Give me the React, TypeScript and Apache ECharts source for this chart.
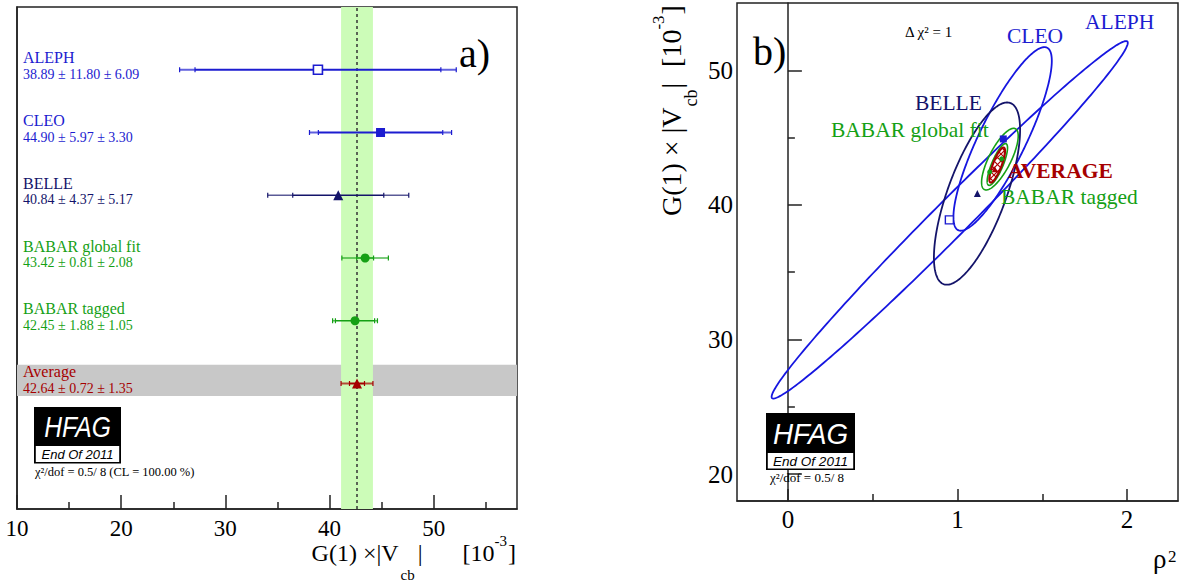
import React, { useEffect, useRef } from 'react';
import * as echarts from 'echarts';

// ---------- Panel a) data ----------
const experiments = ['ALEPH', 'CLEO', 'BELLE', 'BABAR global fit', 'BABAR tagged', 'Average'];
const centralValues = [38.89, 44.9, 40.84, 43.42, 42.45, 42.64];
const statErrors = [11.8, 5.97, 4.37, 0.81, 1.88, 0.72];
const systErrors = [6.09, 3.3, 5.17, 2.08, 1.05, 1.35];
const rowPositions = [7, 6, 5, 4, 3, 2];
const averageBandRows = [1.8, 2.3];
const xRangeA = [10, 58];
const yRangeA = [0, 8];
const xTickValuesA = [10, 20, 30, 40, 50];
const xMinorTickValuesA = [15, 25, 35, 45, 55];

// ---------- Panel b) data ----------
const ellipseLabels = ['ALEPH', 'CLEO', 'BELLE', 'BABAR global fit', 'BABAR tagged', 'AVERAGE'];
const ellipseRho2 = [0.954, 1.266, 1.115, 1.25, 1.235, 1.234];
const ellipseVcb = [38.89, 44.9, 40.84, 43.4, 43.0, 42.96];
const ellipseSigmaRho2 = [1.05, 0.29, 0.254, 0.108, 0.06, 0.046];
const ellipseSigmaVcb = [13.28, 6.82, 6.77, 2.29, 1.55, 1.3];
const ellipseCorrelation = [0.99, 0.85, 0.7, 0.75, 0.8, 0.8];
const markerRho2 = [0.952, 1.27, 1.117, 1.26, 1.19, 1.22];
const markerVcb = [38.89, 44.9, 40.84, 43.42, 42.45, 42.64];
const xRangeB = [-0.3, 2.3];
const yRangeB = [18, 55];
const xTickValuesB = [0, 1, 2];
const xMinorTickValuesB = [0.5, 1.5];
const yTickValuesB = [20, 30, 40, 50];
const yMinorTickValuesB = [25, 35, 45];

// ---------- styles ----------
const BLUE = '#1c1cd0';
const NAVY = '#14146a';
const GREEN = '#15a015';
const RED = '#a60000';
const SERIF = 'Liberation Serif';
const SANS = 'Liberation Sans';
const rowColors = [BLUE, BLUE, NAVY, GREEN, GREEN, RED];
const rowSymbols = ['rect', 'rect', 'triangle', 'circle', 'circle', 'triangle'];
const rowSymbolSizes = [9, 9, 10, 9, 9, 10];
const rowHollow = [true, false, false, false, false, false];
const errLineWidths = [2, 2, 1.5, 1.6, 1.6, 2];
const ellipseColors = ['#1616e0', '#1616e0', NAVY, GREEN, GREEN, RED];
const ellipseWidths = [1.8, 1.8, 1.8, 1.6, 1.6, 2.2];
const markerSizesB = [8, 7, 7, 5, 5, 6];

let measureCtx: CanvasRenderingContext2D | null = null;
function measure(t: string, size: number, family = SERIF) {
  if (!measureCtx) measureCtx = document.createElement('canvas').getContext('2d');
  if (!measureCtx) return t.length * size * 0.5;
  measureCtx.font = `${size}px "${family}"`;
  return measureCtx.measureText(t).width;
}

function txt(text: string, x: number, y: number, size: number, color = '#000', extra: any = {}, elExtra: any = {}) {
  return {
    type: 'text',
    x,
    y,
    z: 100,
    silent: true,
    ...elExtra,
    style: { text, fontSize: size, fontFamily: SERIF, fill: color, align: 'left', verticalAlign: 'middle', ...extra },
  };
}

type Piece = { t: string; size: number; dy: number; gap: number };
function layoutPieces(pieces: Piece[]) {
  let cur = 0;
  const out: { t: string; size: number; dy: number; x: number }[] = [];
  pieces.forEach((p) => {
    cur += p.gap;
    out.push({ t: p.t, size: p.size, dy: p.dy, x: cur });
    cur += measure(p.t, p.size);
  });
  return { out, total: cur };
}

function hatchPattern() {
  const c = document.createElement('canvas');
  c.width = 7;
  c.height = 7;
  const g = c.getContext('2d');
  if (!g) return 'rgba(170,0,0,0.35)';
  g.fillStyle = '#ffffff';
  g.fillRect(0, 0, 7, 7);
  g.strokeStyle = '#b00000';
  g.lineWidth = 1.2;
  g.beginPath();
  g.moveTo(0, 0);
  g.lineTo(7, 7);
  g.moveTo(7, 0);
  g.lineTo(0, 7);
  g.stroke();
  return { image: c, repeat: 'repeat' } as any;
}

function hfagLogo(x: number, y: number, w: number, hBlack: number, hWhite: number, sx: number, fsHfag: number, fsEnd: number) {
  return [
    { type: 'rect', z: 100, silent: true, shape: { x, y, width: w, height: hBlack + hWhite }, style: { fill: '#000' } },
    {
      type: 'rect', z: 101, silent: true,
      shape: { x: x + 1.8, y: y + hBlack + 1, width: w - 3.6, height: hWhite - 2.6 },
      style: { fill: '#fff' },
    },
    {
      type: 'text', z: 102, silent: true, x: x + w / 2, y: y + hBlack / 2 + 1, scaleX: sx,
      style: { text: 'HFAG', fontSize: fsHfag, fontFamily: SANS, fontStyle: 'italic', fill: '#fff', align: 'center', verticalAlign: 'middle' },
    },
    {
      type: 'text', z: 102, silent: true, x: x + w / 2, y: y + hBlack + hWhite / 2, scaleX: 1,
      style: { text: 'End Of 2011', fontSize: fsEnd, fontFamily: SANS, fontStyle: 'italic', fill: '#000', align: 'center', verticalAlign: 'middle' },
    },
  ];
}

function buildOption() {
  const totals = centralValues.map((v, i) => Math.sqrt(statErrors[i] ** 2 + systErrors[i] ** 2));
  const avgIdx = experiments.length - 1;
  const avg = centralValues[avgIdx];
  const avgTot = totals[avgIdx];

  // axis title a)
  const piecesA: Piece[] = [
    { t: 'G(1) \u00d7|V', size: 24, dy: 0, gap: 0 },
    { t: 'cb', size: 15, dy: 22, gap: 2 },
    { t: '|', size: 24, dy: 0, gap: 3 },
    { t: '[10', size: 24, dy: 0, gap: 40 },
    { t: '-3', size: 15, dy: -12, gap: 0 },
    { t: ']', size: 24, dy: 0, gap: 1 },
  ];
  const la = layoutPieces(piecesA);
  const startA = 516 - la.total;
  const titleA = la.out.map((p) => txt(p.t, startA + p.x, 553 + p.dy, p.size));

  // axis title b) (rotated)
  const piecesB: Piece[] = [
    { t: 'G(1) \u00d7 |V', size: 28, dy: 0, gap: 0 },
    { t: 'cb', size: 18, dy: 20, gap: 1 },
    { t: '|', size: 28, dy: 0, gap: 1 },
    { t: '[10', size: 28, dy: 0, gap: 16 },
    { t: '-3', size: 17, dy: -13, gap: 0 },
    { t: ']', size: 28, dy: 0, gap: 1 },
  ];
  const lb = layoutPieces(piecesB);
  const titleB = {
    type: 'group',
    x: 671,
    y: Math.max(216, lb.total + 2),
    rotation: Math.PI / 2,
    z: 100,
    children: lb.out.map((p) => txt(p.t, p.x, p.dy, p.size)),
  };

  const graphic: any[] = [
    ...titleA,
    titleB,
    txt('\u03c1', 1153, 559, 27),
    txt('2', 1168, 556, 17),
    txt('a)', 459, 53.5, 40),
    txt('b)', 753, 51.5, 40),
    txt('\u0394 \u03c7\u00b2 = 1', 905, 31.7, 15),
    txt(ellipseLabels[0], 1085, 22, 21.5, BLUE),
    txt(ellipseLabels[1], 1007, 35.5, 21.5, BLUE),
    txt(ellipseLabels[2], 915, 102.5, 21.5, NAVY),
    txt(ellipseLabels[3], 831, 130, 21.5, GREEN),
    txt(ellipseLabels[5], 1008, 171, 21.5, RED, { fontWeight: 'bold' }),
    txt(ellipseLabels[4], 1001, 196.7, 21.5, GREEN),
    ...hfagLogo(34, 407, 87, 38, 18.5, 0.85, 29, 13),
    txt('\u03c7\u00b2/dof = 0.5/ 8 (CL = 100.00 %)', 35, 472, 12.5),
    ...hfagLogo(766, 413, 89, 39, 18, 0.96, 29, 13.5),
    txt('\u03c7\u00b2/dof = 0.5/ 8', 770, 477.5, 13),
  ];

  const axisLabelBase = { fontFamily: SERIF, color: '#000' };

  return {
    animation: false,
    backgroundColor: '#fff',
    grid: [
      { left: 17, top: 7, width: 500, height: 502, show: true, borderColor: '#222', borderWidth: 1.5, containLabel: false },
      { left: 737, top: 3, width: 441, height: 498, show: true, borderColor: '#222', borderWidth: 1.5, containLabel: false },
    ],
    xAxis: [
      {
        type: 'value', gridIndex: 0, position: 'bottom', min: xRangeA[0], max: xRangeA[1],
        axisLine: { show: true, lineStyle: { color: '#222', width: 1.5 } },
        axisTick: { show: true, inside: true, length: 14, customValues: xTickValuesA, lineStyle: { color: '#222', width: 1.5 } },
        axisLabel: { show: true, customValues: xTickValuesA, fontSize: 23, margin: 8, ...axisLabelBase },
        splitLine: { show: false },
      },
      {
        type: 'value', gridIndex: 0, position: 'bottom', min: xRangeA[0], max: xRangeA[1],
        axisLine: { show: false },
        axisTick: { show: true, inside: true, length: 7, customValues: xMinorTickValuesA, lineStyle: { color: '#222', width: 1.5 } },
        axisLabel: { show: false },
        splitLine: { show: false },
      },
      {
        type: 'value', gridIndex: 1, position: 'bottom', min: xRangeB[0], max: xRangeB[1],
        axisLine: { show: true, lineStyle: { color: '#222', width: 1.5 } },
        axisTick: { show: true, inside: true, length: 12, customValues: xTickValuesB, lineStyle: { color: '#222', width: 1.5 } },
        axisLabel: { show: true, customValues: xTickValuesB, fontSize: 25, margin: 6, ...axisLabelBase },
        splitLine: { show: false },
      },
      {
        type: 'value', gridIndex: 1, position: 'bottom', min: xRangeB[0], max: xRangeB[1],
        axisLine: { show: false },
        axisTick: { show: true, inside: true, length: 7, customValues: xMinorTickValuesB, lineStyle: { color: '#222', width: 1.5 } },
        axisLabel: { show: false },
        splitLine: { show: false },
      },
    ],
    yAxis: [
      {
        type: 'value', gridIndex: 0, position: 'left', min: yRangeA[0], max: yRangeA[1],
        axisLine: { show: true, lineStyle: { color: '#222', width: 1.5 } },
        axisTick: { show: false }, axisLabel: { show: false }, splitLine: { show: false },
      },
      {
        type: 'value', gridIndex: 1, position: 'left', min: yRangeB[0], max: yRangeB[1],
        axisLine: { show: true, lineStyle: { color: '#222', width: 1.5 } },
        axisTick: { show: true, inside: true, length: 14, customValues: yTickValuesB, lineStyle: { color: '#222', width: 1.5 } },
        axisLabel: { show: true, customValues: yTickValuesB, fontSize: 25, margin: 4, ...axisLabelBase },
        splitLine: { show: false },
      },
      {
        type: 'value', gridIndex: 1, position: 'left', min: yRangeB[0], max: yRangeB[1],
        axisLine: { show: false },
        axisTick: { show: true, inside: true, length: 7, customValues: yMinorTickValuesB, lineStyle: { color: '#222', width: 1.5 } },
        axisLabel: { show: false }, splitLine: { show: false },
      },
    ],
    graphic,
    series: [
      {
        type: 'line', xAxisIndex: 0, yAxisIndex: 0, data: [], z: 1, silent: true,
        markArea: {
          silent: true,
          itemStyle: { color: '#c8c8c8' },
          data: [[{ xAxis: xRangeA[0], yAxis: averageBandRows[0] }, { xAxis: xRangeA[1], yAxis: averageBandRows[1] }]],
        },
      },
      {
        type: 'line', xAxisIndex: 0, yAxisIndex: 0, data: [], z: 2, silent: true,
        markArea: {
          silent: true,
          itemStyle: { color: '#ccfcb8' },
          data: [[{ xAxis: avg - avgTot }, { xAxis: avg + avgTot }]],
        },
        markLine: {
          silent: true, symbol: ['none', 'none'], label: { show: false },
          lineStyle: { color: '#333', width: 1.5, type: [3, 3] },
          data: [{ xAxis: avg }],
        },
      },
      {
        type: 'custom', xAxisIndex: 0, yAxisIndex: 0, z: 5, silent: true,
        data: centralValues.map((v, i) => [rowPositions[i], v, statErrors[i], totals[i]]),
        renderItem: (params: any, api: any) => {
          const i = params.dataIndex;
          const y = api.value(0);
          const v = api.value(1);
          const st = api.value(2);
          const tot = api.value(3);
          const c = rowColors[i];
          const lw = errLineWidths[i];
          const py = api.coord([v, y])[1];
          const X = (x: number) => api.coord([x, y])[0];
          const a = X(v - tot), b = X(v - st), cc = X(v + st), d = X(v + tot);
          const h = 2.5;
          const seg = (x1: number, x2: number, op: number) => ({
            type: 'line', shape: { x1, y1: py, x2, y2: py }, style: { stroke: c, lineWidth: lw, opacity: op },
          });
          const tick = (x: number) => ({
            type: 'line', shape: { x1: x, y1: py - h, x2: x, y2: py + h }, style: { stroke: c, lineWidth: 1.2 },
          });
          return { type: 'group', children: [seg(a, b, 0.7), seg(b, cc, 1), seg(cc, d, 0.7), tick(a), tick(b), tick(cc), tick(d)] };
        },
      },
      {
        type: 'scatter', xAxisIndex: 0, yAxisIndex: 0, z: 6, silent: true, clip: false,
        itemStyle: { opacity: 1 },
        data: centralValues.map((v, i) => ({
          value: [v, rowPositions[i]],
          symbol: rowSymbols[i],
          symbolSize: rowSymbolSizes[i],
          itemStyle: rowHollow[i]
            ? { color: '#fff', borderColor: rowColors[i], borderWidth: 1.6, opacity: 1 }
            : { color: rowColors[i], borderWidth: 0, opacity: 1 },
        })),
      },
      {
        type: 'scatter', xAxisIndex: 0, yAxisIndex: 0, z: 7, silent: true, clip: false, symbolSize: 0,
        itemStyle: { opacity: 1 },
        label: { show: true, position: 'right', distance: 6, offset: [0, -12], fontSize: 16, fontFamily: SERIF },
        data: experiments.map((n, i) => ({
          value: [xRangeA[0], rowPositions[i]],
          label: { formatter: n, color: rowColors[i] },
        })),
      },
      {
        type: 'scatter', xAxisIndex: 0, yAxisIndex: 0, z: 7, silent: true, clip: false, symbolSize: 0,
        itemStyle: { opacity: 1 },
        label: { show: true, position: 'right', distance: 6, offset: [0, 4.5], fontSize: 14, fontFamily: SERIF },
        data: centralValues.map((v, i) => ({
          value: [xRangeA[0], rowPositions[i]],
          label: {
            formatter: `${v.toFixed(2)} \u00b1 ${statErrors[i].toFixed(2)} \u00b1 ${systErrors[i].toFixed(2)}`,
            color: rowColors[i],
          },
        })),
      },
      {
        type: 'custom', xAxisIndex: 2, yAxisIndex: 1, z: 5, silent: true,
        data: ellipseRho2.map((x, i) => [x, ellipseVcb[i], ellipseSigmaRho2[i], ellipseSigmaVcb[i], ellipseCorrelation[i]]),
        renderItem: (params: any, api: any) => {
          const i = params.dataIndex;
          const cx = api.value(0), cy = api.value(1), sx = api.value(2), sy = api.value(3), r = api.value(4);
          const pts: number[][] = [];
          const n = 240;
          const q = Math.sqrt(1 - r * r);
          for (let k = 0; k <= n; k++) {
            const t = (2 * Math.PI * k) / n;
            pts.push(api.coord([cx + sx * Math.cos(t), cy + sy * (r * Math.cos(t) + q * Math.sin(t))]));
          }
          const isAvg = i === ellipseLabels.length - 1;
          return {
            type: 'polygon',
            shape: { points: pts },
            style: { fill: isAvg ? hatchPattern() : 'none', stroke: ellipseColors[i], lineWidth: ellipseWidths[i] },
          };
        },
      },
      {
        type: 'scatter', xAxisIndex: 2, yAxisIndex: 1, z: 8, silent: true,
        itemStyle: { opacity: 1 },
        data: markerRho2.map((x, i) => ({
          value: [x, markerVcb[i]],
          symbol: rowSymbols[i],
          symbolSize: markerSizesB[i],
          itemStyle: rowHollow[i]
            ? { color: '#fff', borderColor: rowColors[i], borderWidth: 1.4, opacity: 1 }
            : { color: rowColors[i], borderWidth: 0, opacity: 1 },
        })),
      },
    ],
  };
}

export default function App() {
  const ref = useRef<HTMLDivElement>(null);
  useEffect(() => {
    if (!ref.current) return;
    const chart = echarts.init(ref.current, undefined, { renderer: 'svg' });
    chart.setOption(buildOption() as any);
    return () => chart.dispose();
  }, []);
  return (
    <div
      ref={ref}
      style={{ position: 'absolute', left: 0, top: 0, width: 1198, height: 584, background: '#fff' }}
    />
  );
}
